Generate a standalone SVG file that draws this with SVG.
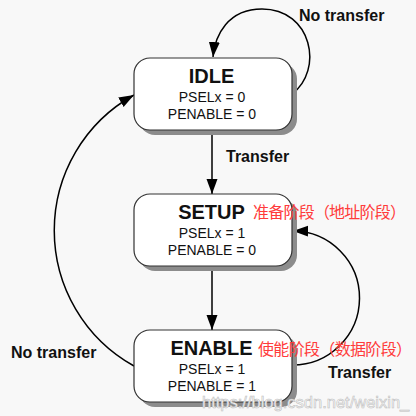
<svg xmlns="http://www.w3.org/2000/svg" width="416" height="416" viewBox="0 0 416 416">
<defs>
<marker id="ah" markerUnits="userSpaceOnUse" markerWidth="16" markerHeight="12" refX="15" refY="5.5" orient="auto">
<path d="M0,0 L15,5.5 L0,11 z" fill="#000"/>
</marker>
<style>
.shadow{fill:#8c8c8c}
.box{fill:#fff;stroke:#333;stroke-width:1.2}
.title{font-family:"Liberation Sans",Arial,sans-serif;font-weight:bold;font-size:20px;fill:#111;text-anchor:middle}
.sig{font-family:"Liberation Sans",Arial,sans-serif;font-size:14px;fill:#111;text-anchor:middle}
.lbl{font-family:"Liberation Sans",Arial,sans-serif;font-weight:bold;font-size:16px;fill:#111}
.cn{font-family:"Noto Sans CJK SC",sans-serif;font-size:16px;fill:#ff3b3b}
.edge{fill:none;stroke:#000;stroke-width:1.5;marker-end:url(#ah)}
.wm{font-family:"Liberation Sans",Arial,sans-serif;font-size:16.5px;fill:#fff;stroke:#bdbdbd;stroke-width:0.6}
</style>
</defs>
<rect width="416" height="416" fill="#f8f8f8"/>
<g id="connectors">
<path class="edge" d="M212,130 L212,194"/>
<path class="edge" d="M212,266 L212,330"/>
<path class="edge" d="M292,94 C324,70 312,9 262,9 C228,9 215,35 213,57"/>
<path class="edge" d="M292,365 A67,67 0 1 0 293,231"/>
<path class="edge" d="M134,366 A155,155 0 0 1 134,95"/>
</g>
<g id="lbl-notransfer-top"><text class="lbl" x="299" y="21">No transfer</text></g>
<g id="lbl-transfer"><text class="lbl" x="226" y="162">Transfer</text></g>
<g id="lbl-notransfer-left"><text class="lbl" x="11" y="358">No transfer</text></g>
<g id="lbl-transfer-right"><text class="lbl" x="328" y="378">Transfer</text></g>
<g id="IDLE">
<rect class="shadow" x="139" y="63" width="158" height="72" rx="16"/>
<rect class="box" x="134" y="58" width="158" height="72" rx="16"/>
<text class="title" x="211.5" y="83">IDLE</text>
<text class="sig" x="212" y="102">PSELx = 0</text>
<text class="sig" x="212" y="119">PENABLE = 0</text>
</g>
<g id="SETUP">
<rect class="shadow" x="139" y="199" width="158" height="72" rx="16"/>
<rect class="box" x="134" y="194" width="158" height="72" rx="16"/>
<text class="title" x="211.5" y="219">SETUP</text>
<text class="sig" x="212" y="238">PSELx = 1</text>
<text class="sig" x="212" y="255">PENABLE = 0</text>
<text class="cn" x="253" y="218" textLength="153" lengthAdjust="spacing">准备阶段（地址阶段）</text>
</g>
<g id="ENABLE">
<rect class="shadow" x="139" y="335" width="158" height="72" rx="16"/>
<rect class="box" x="134" y="330" width="158" height="72" rx="16"/>
<text class="title" x="211.5" y="355">ENABLE</text>
<text class="sig" x="212" y="374">PSELx = 1</text>
<text class="sig" x="212" y="391">PENABLE = 1</text>
<text class="cn" x="258" y="355" textLength="154" lengthAdjust="spacing">使能阶段（数据阶段）</text>
</g>
<text class="wm" x="202" y="408">https://blog.csdn.net/weixin_</text>
</svg>
